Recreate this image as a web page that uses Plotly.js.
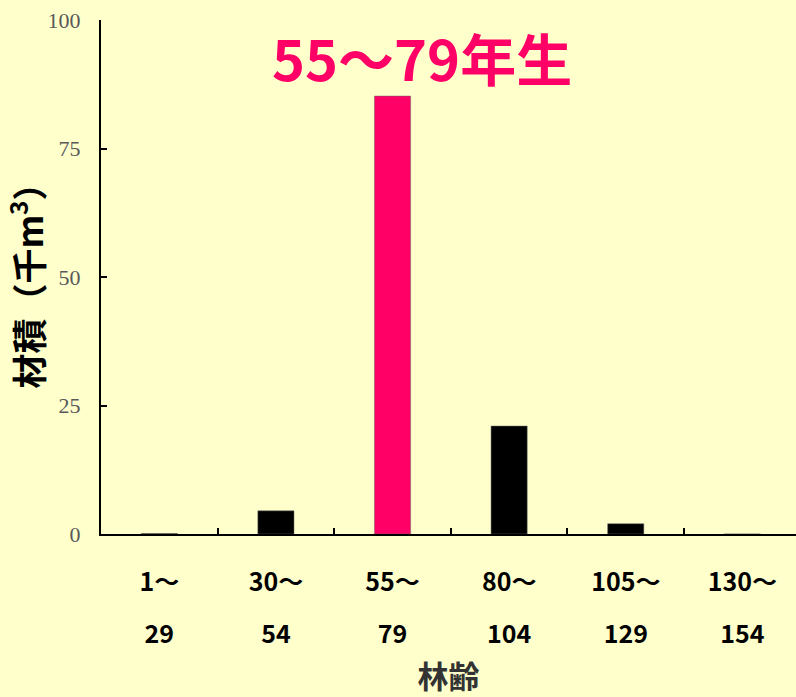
<!DOCTYPE html>
<html><head><meta charset="utf-8">
<script src="https://cdn.plot.ly/plotly-3.0.1.min.js"></script>
<style>html,body{margin:0;padding:0;background:#FFFFCC;}</style>
</head><body>
<div id="chart" style="width:796px;height:697px;"></div>
<script>
const categories = ["1～29", "30～54", "55～79", "80～104", "105～129", "130～154"];
const labelTop = ["1～", "30～", "55～", "80～", "105～", "130～"];
const labelBottom = ["29", "54", "79", "104", "129", "154"];
const volumes = [0.1, 4.5, 85.2, 21.0, 2.0, 0];
const highlight = "55～79";
const highlightText = "55～79年生";

const colors = categories.map(c => c === highlight ? "#FF0066" : "#000000");

const trace = {
  type: "bar",
  x: categories,
  y: volumes,
  marker: {color: colors, line: {color: "#666666", width: 0.5}},
  width: 0.31,
  hoverinfo: "skip"
};
const dummy = {
  type: "bar", x: categories, y: volumes.map(() => null), xaxis: "x2", showlegend: false, hoverinfo: "skip"
};

const layout = {
  width: 796, height: 697,
  paper_bgcolor: "#FFFFCC", plot_bgcolor: "#FFFFCC",
  margin: {l: 101, r: 0, t: 20, b: 163},
  showlegend: false,
  xaxis: {
    type: "category",
    range: [-0.5, 5.46],
    tickmode: "array", tickvals: categories, ticktext: labelTop,
    tickson: "boundaries",
    ticks: "inside", ticklen: 6, tickwidth: 2, tickcolor: "#000",
    showline: true, linecolor: "#000", linewidth: 2,
    showgrid: false, zeroline: false,
    ticklabelstandoff: 25,
    tickfont: {family: "Noto Sans CJK JP", size: 25, color: "#000", weight: "bold"},
    title: {text: "林齢", font: {family: "Noto Sans CJK JP", size: 31, color: "#333333", weight: "bold"}, standoff: 72}
  },
  xaxis2: {
    type: "category", overlaying: "x", matches: "x", side: "bottom",
    range: [-0.5, 5.46],
    tickmode: "array", tickvals: categories, ticktext: labelBottom,
    ticks: "", showline: false, showgrid: false, zeroline: false,
    ticklabelstandoff: 83,
    tickfont: {family: "Noto Sans CJK JP", size: 25, color: "#000", weight: "bold"}
  },
  yaxis: {
    range: [0, 100],
    tickvals: [0, 25, 50, 75, 100],
    ticks: "inside", ticklen: 6, tickwidth: 2, tickcolor: "#000",
    showline: true, linecolor: "#000", linewidth: 2,
    showgrid: false, zeroline: false,
    ticklabelstandoff: 14,
    tickfont: {family: "Liberation Serif", size: 22, color: "#595959"},
    title: {text: "材積（千m<sup>3</sup>）", font: {family: "Noto Sans CJK JP", size: 35, color: "#000", weight: "bold"}, standoff: 22}
  },
  annotations: [{
    x: 2.25, y: 100, xref: "x", yref: "y",
    text: highlightText, showarrow: false,
    xanchor: "center", yanchor: "top", yshift: 6,
    font: {family: "Noto Sans CJK JP", size: 56, color: "#FF0066", weight: "bold"}
  }]
};

Plotly.newPlot("chart", [trace, dummy], layout, {displayModeBar: false, staticPlot: true});
</script>
</body></html>
